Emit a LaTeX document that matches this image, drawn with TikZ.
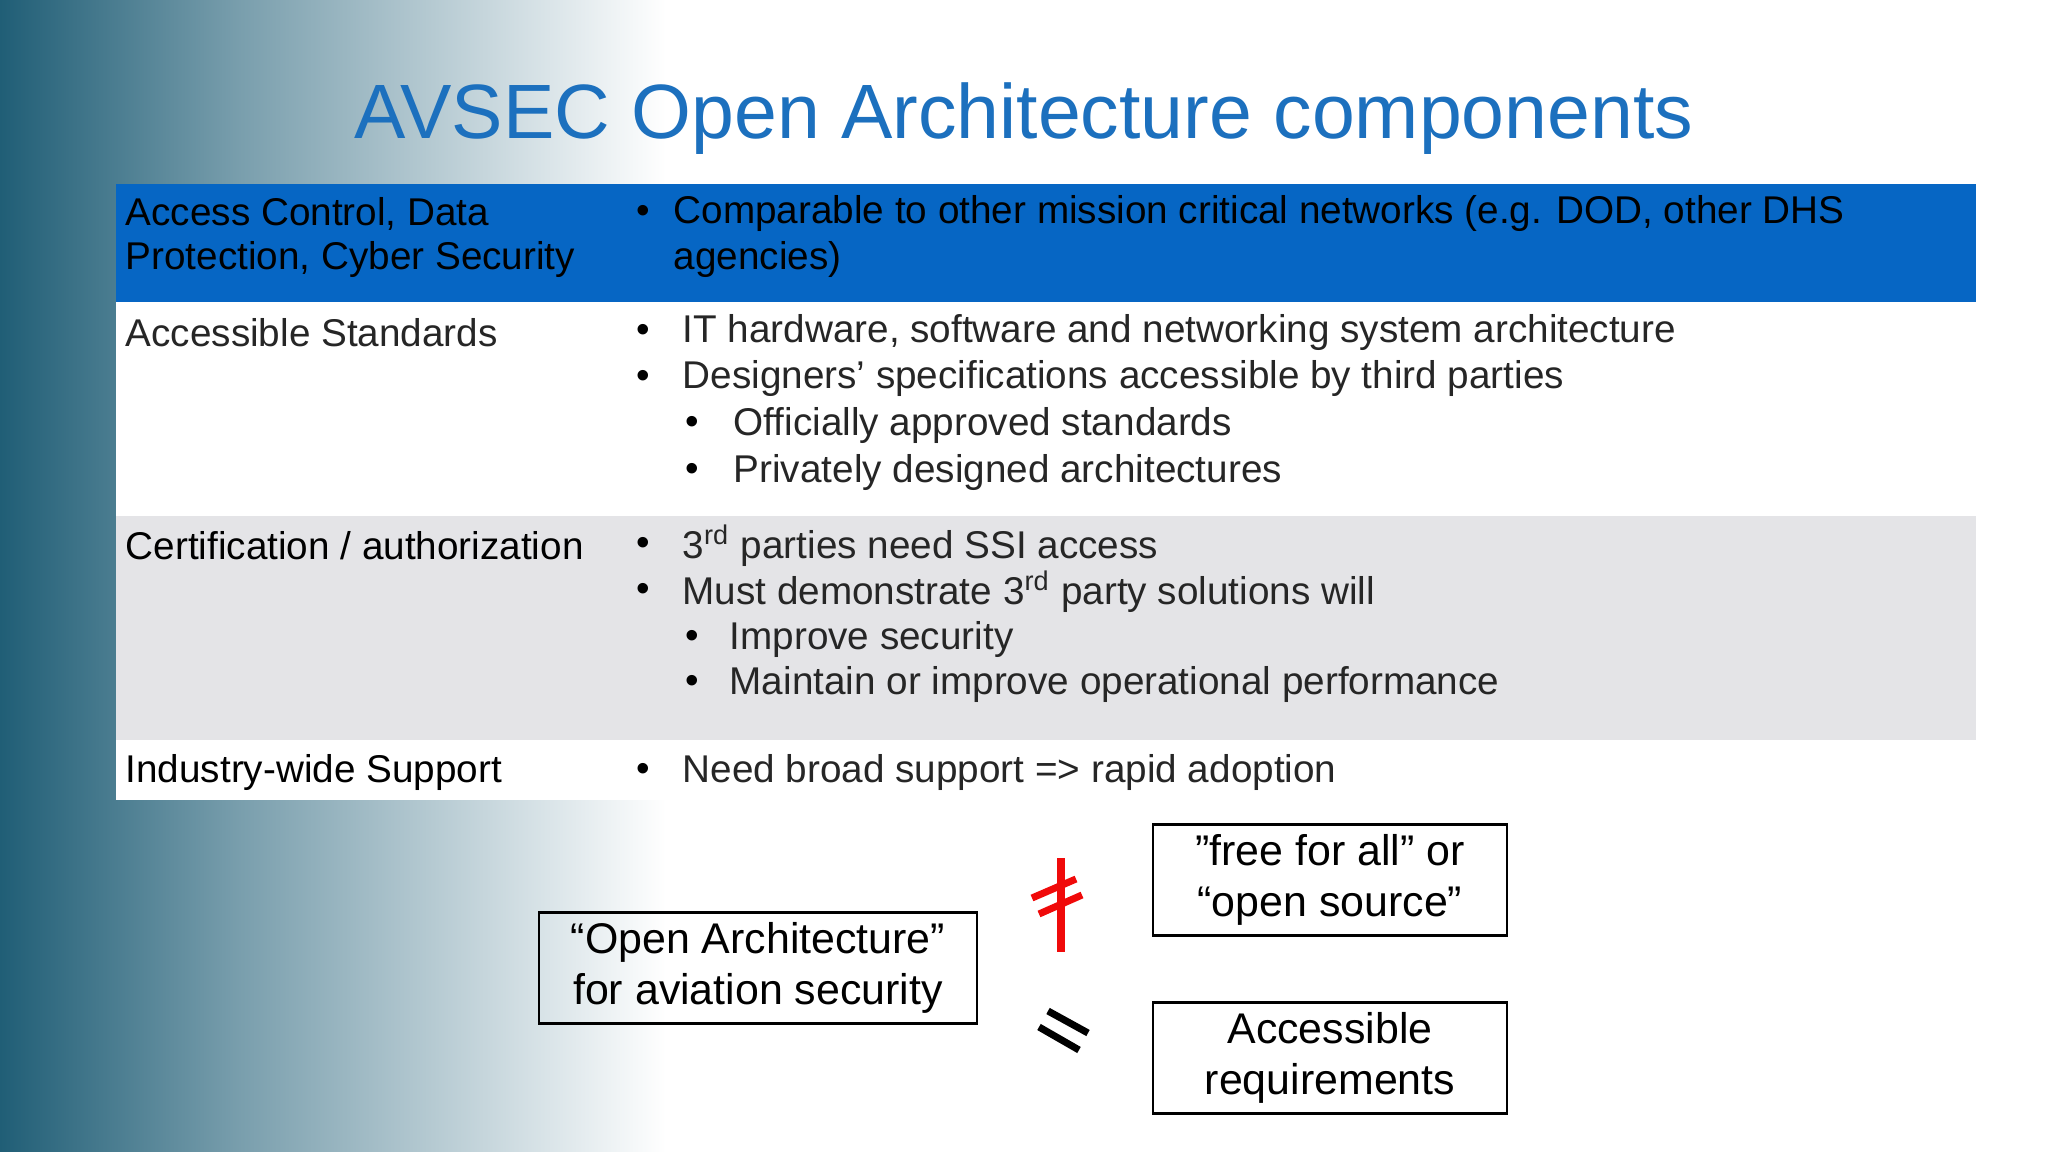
\documentclass[tikz,border=0pt]{standalone}
\usepackage{fontspec}
\setmainfont{Liberation Sans}
\definecolor{teal1}{RGB}{32,94,118}
\definecolor{titleblue}{RGB}{28,112,190}
\definecolor{rowblue}{RGB}{6,102,196}
\definecolor{rowgray}{RGB}{228,228,231}
\definecolor{symred}{RGB}{240,10,10}
\begin{document}
\begin{tikzpicture}[x=0.01cm,y=-0.01cm,
  txt/.style={anchor=west,inner sep=0,font=\fontsize{11pt}{12pt}\selectfont},
  bul/.style={anchor=center,inner sep=0,font=\fontsize{11pt}{12pt}\selectfont},
  bx/.style={draw,line width=0.75pt,align=center,font=\fontsize{12.2pt}{14.6pt}\selectfont,inner sep=0},
  sym/.style={line width=2pt}]
\useasboundingbox (0,0) rectangle (2048,1152);
\fill[white] (0,0) rectangle (2048,1152);
\shade[left color=teal1,right color=teal1!60!white] (0,0) rectangle (240,1152);
\shade[left color=teal1!60!white,right color=white] (240,0) rectangle (666,1152);
\node[inner sep=0,text=titleblue,font=\fontsize{21.9pt}{26pt}\selectfont] (title) at (1024,119) {AVSEC Open Architecture components};
% rows
\fill[rowblue] (116,184) rectangle (1976,302);
\fill[white] (116,302) rectangle (1976,516);
\fill[rowgray] (116,516) rectangle (1976,740);
\fill[white] (116,740) rectangle (1976,800);
\begin{scope}[yshift=-0.04cm]
% row1
\node[txt] (l1a) at (125,210) {Access Control, Data};
\node[txt] (l1b) at (125,256) {Protection, Cyber Security};
\node[bul] (b1) at (643,210) {•};
\node[txt] (r1a) at (673,210) {Comparable to other mission critical networks (e.g. DOD, other DHS};
\node[txt] (r1b) at (673,256) {agencies)};
% row2
\node[txt,text=black!85] (l2) at (125,329) {Accessible Standards};
\node[bul] at (643,329) {•};
\node[txt,text=black!85] at (682,329) {IT hardware, software and networking system architecture};
\node[bul] at (643,375) {•};
\node[txt,text=black!85] at (682,375) {Designers’ specifications accessible by third parties};
\node[bul] at (692,421) {•};
\node[txt,text=black!85] at (733,421) {Officially approved standards};
\node[bul] at (692,468) {•};
\node[txt,text=black!85] at (733,468) {Privately designed architectures};
% row3
\node[txt] (l3) at (125,542) {Certification / authorization};
\node[bul] at (643,542) {•};
\node[txt,text=black!85] at (682,542) {3\textsuperscript{rd} parties need SSI access};
\node[bul] at (643,588) {•};
\node[txt,text=black!85] at (682,588) {Must demonstrate 3\textsuperscript{rd} party solutions will};
\node[bul] at (692,635) {•};
\node[txt,text=black!85] at (729,635) {Improve security};
\node[bul] at (692,680) {•};
\node[txt,text=black!85] at (729,680) {Maintain or improve operational performance};
% row4
\node[txt] (l4) at (125,768) {Industry-wide Support};
\node[bul] at (643,768) {•};
\node[txt,text=black!85] at (682,768) {Need broad support => rapid adoption};
\end{scope}
% boxes
\node[bx,minimum width=4.38cm,minimum height=1.11cm] (oa) at (758,968) {“Open Architecture”\\for aviation security};
\node[bx,minimum width=3.54cm,minimum height=1.11cm] (ffa) at (1330,880) {”free for all” or\\“open source”};
\node[bx,minimum width=3.54cm,minimum height=1.11cm] (acc) at (1330,1058) {Accessible\\requirements};
% symbols
\draw[symred,sym] (1061,858) -- (1061,952);
\draw[symred,sym] (1032,898) -- (1076,879);
\draw[symred,sym] (1039,914) -- (1082,895);
\draw[black,sym] (1048,1011) -- (1088,1033);
\draw[black,sym] (1039,1027) -- (1079,1050);
\end{tikzpicture}
\end{document}
